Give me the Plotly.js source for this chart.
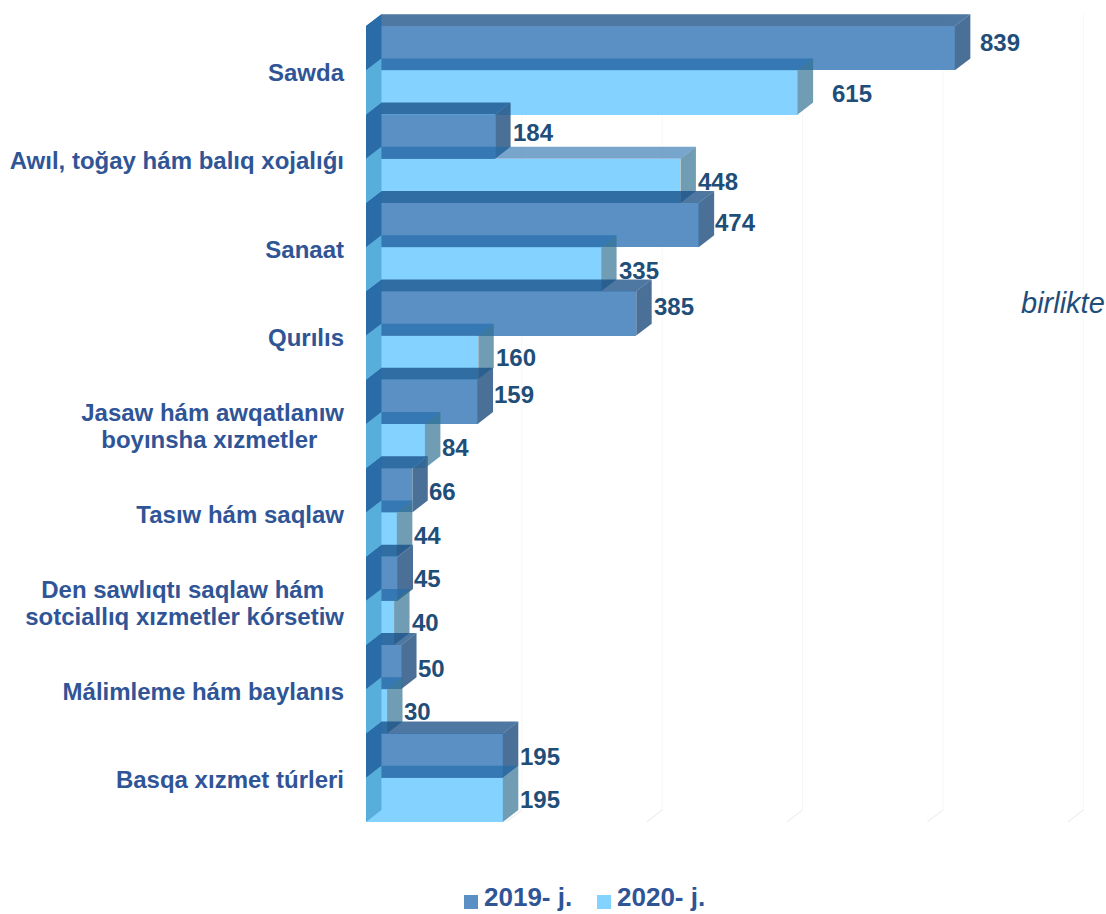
<!DOCTYPE html>
<html><head><meta charset="utf-8">
<script src="https://cdn.plot.ly/plotly-3.0.1.min.js"></script>
<style>html,body{margin:0;padding:0;background:#fff}#c{width:1106px;height:914px}</style>
</head><body><div id="c"></div>
<script>
const categories = ["Sawda","Awıl, toğay hám balıq xojalıǵı","Sanaat","Qurılıs",
  ["Jasaw hám awqatlanıw","boyınsha xızmetler\u00A0\u00A0\u00A0\u00A0"],
  "Tasıw hám saqlaw",
  ["Den sawlıqtı saqlaw hám\u00A0\u00A0\u00A0","sotciallıq xızmetler kórsetiw"],
  "Málimleme hám baylanıs","Basqa xızmet túrleri"];
const values2019 = [839,184,474,385,159,66,45,50,195];
const values2020 = [615,448,335,160,84,44,40,30,195];
const name2019 = "2019- j.";
const name2020 = "2020- j.";
const unitNote = "birlikte";
const gridTicks = [200,400,600,800,1000];

// label nudges in px relative to the end of each bar's depth face
const nudge2019 = [[9,-6],[1,-4],[0,-3],[1,-7],[0,-7],[0,1],[0,0],[0,1],[1,1]];
const nudge2020 = [[18,1],[1,1],[1,1],[1,0],[1,1],[1,1],[1,0],[0,0],[1,0]];

const DX = 22, DY = 0.27;
const labelBlue = "#2F5597", valueBlue = "#1F4E79";
const color2019 = "#5A90C4", color2020 = "#84D2FF";
const FONT = "Liberation Sans, Arial, sans-serif";

function faces(vals, off){
  const side={x:[],y:[]}, left={x:[],y:[]}, top={x:[],y:[]};
  vals.forEach((v,k)=>{
    const y0=2*k+off, y1=y0+1;
    side.x.push(v,v+DX,v+DX,v,v,null); side.y.push(y0,y0-DY,y1-DY,y1,y0,null);
    left.x.push(0,DX,DX,0,0,null);     left.y.push(y0,y0-DY,y1-DY,y1,y0,null);
    top.x.push(0,DX,v+DX,v,0,null);    top.y.push(y0,y0-DY,y0-DY,y0,y0,null);
  });
  return {side,left,top};
}
function poly(p,color){
  return {type:"scatter",mode:"lines",x:p.x,y:p.y,fill:"toself",fillcolor:color,
    line:{width:0,color:color},hoverinfo:"skip",showlegend:false};
}
function bar(vals,off,name,color){
  return {type:"bar",orientation:"h",name:name,x:vals,y:vals.map((_,k)=>2*k+off+0.5),
    width:1,marker:{color:color,line:{width:0}},hoverinfo:"x+name"};
}
const f19=faces(values2019,0), f20=faces(values2020,1);
const traces=[
  bar(values2019,0,name2019,color2019),
  bar(values2020,1,name2020,color2020),
  poly(f19.side,"rgba(35,80,128,0.82)"),
  poly(f20.side,"rgba(45,110,145,0.68)"),
  poly(f19.top,"rgba(19,75,131,0.75)"),
  poly(f20.top,"rgba(28,105,168,0.6)"),
  poly(f19.left,"#2A6CA8"),
  poly(f20.left,"#58AEDB")
];
const px=v=>(v-366)/730, py=v=>(844-v)/840;
const shapes=[{type:"line",xref:"x",yref:"y",x0:-2,x1:-2,y0:0,y1:18.1,layer:"below",line:{color:"#d9d9d9",width:2}}];
gridTicks.forEach(t=>{
  shapes.push({type:"line",xref:"x",yref:"y",x0:t+DX,x1:t+DX,y0:-DY,y1:18-DY,layer:"below",line:{color:"#f7f7f7",width:1}});
  shapes.push({type:"line",xref:"x",yref:"y",x0:t,x1:t+DX,y0:18,y1:18-DY,layer:"below",line:{color:"#e8e8e8",width:1}});
});
// legend swatches
[[464,color2019],[597,color2020]].forEach(([x,c])=>{
  shapes.push({type:"rect",xref:"paper",yref:"paper",x0:px(x),x1:px(x+14),y0:py(895),y1:py(909),fillcolor:c,line:{width:0}});
});
function labels(vals,off,nudge){
  return vals.map((v,k)=>({xref:"x",yref:"y",x:v+DX,y:2*k+off+0.5,text:String(v),showarrow:false,
    xanchor:"left",yanchor:"middle",xshift:nudge[k][0]-1,yshift:-nudge[k][1],
    font:{family:FONT,size:24,weight:700,color:valueBlue}}));
}
function legendText(x,t){
  return {xref:"paper",yref:"paper",x:px(x),y:py(897),xanchor:"left",yanchor:"middle",text:t,showarrow:false,
    font:{family:FONT,size:26,weight:700,color:labelBlue}};
}
const annotations=[...labels(values2019,0,nudge2019),...labels(values2020,1,nudge2020),
  {xref:"paper",yref:"paper",x:px(1107),y:py(303),xanchor:"right",yanchor:"middle",text:unitNote,showarrow:false,
   font:{family:FONT,size:29,style:"italic",color:valueBlue}},
  legendText(482,name2019),legendText(615,name2020)];
// each text line is its own tick so the line spacing stays tight
const tickvals=[], ticktext=[];
categories.forEach((c,k)=>{
  if(Array.isArray(c)){
    tickvals.push(2*k+1-0.25,2*k+1+0.36); ticktext.push(c[0],c[1]);
  } else { tickvals.push(2*k+1.05); ticktext.push(c); }
});
const layout={
  width:1106,height:914,autosize:false,
  paper_bgcolor:"#fff",plot_bgcolor:"rgba(0,0,0,0)",
  margin:{l:366,r:10,t:4,b:70,pad:0,autoexpand:false},
  barmode:"overlay",bargap:0,
  font:{family:FONT},
  xaxis:{range:[0,1040],visible:false,showgrid:false,zeroline:false},
  yaxis:{range:[18.5,-0.5],tickmode:"array",tickvals:tickvals,ticktext:ticktext,
    showgrid:false,zeroline:false,showline:false,ticks:"",ticklabelstandoff:21,automargin:false,
    tickfont:{family:FONT,size:24,weight:700,color:labelBlue}},
  shapes:shapes,annotations:annotations,
  showlegend:false
};
Plotly.newPlot("c",traces,layout,{displayModeBar:false,responsive:false});
</script></body></html>
